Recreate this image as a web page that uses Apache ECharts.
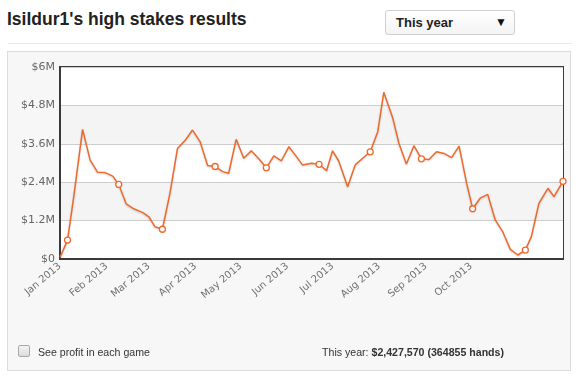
<!DOCTYPE html>
<html>
<head>
<meta charset="utf-8">
<script src="https://cdn.jsdelivr.net/npm/echarts@6/dist/echarts.min.js"></script>
<style>
  html, body { margin: 0; padding: 0; background: #fff; }
  body { width: 580px; height: 384px; position: relative; overflow: hidden; font-family: "Liberation Sans", Arial, sans-serif; }
  #title { position: absolute; left: 7px; top: 9px; font-size: 17.5px; font-weight: bold; color: #222; white-space: nowrap; }
  #dropdown { position: absolute; left: 385px; top: 10px; width: 128px; height: 23px; border: 1px solid #cfcfcf; border-radius: 3px; background: linear-gradient(#fff, #f4f4f4); }
  #dropdown .t { position: absolute; left: 10px; top: 4px; font-size: 13px; font-weight: bold; color: #222; }
  #dropdown .a { position: absolute; right: 7px; top: 4px; font-size: 12px; color: #111; }
  #sep { position: absolute; left: 8px; top: 43px; width: 564px; height: 1px; background: #e9e9e9; }
  #panel { position: absolute; left: 7px; top: 51px; width: 562px; height: 318px; border: 1px solid #dcdcdc; background: #f7f7f7; }
  #chart { position: absolute; left: 0; top: 0; width: 580px; height: 384px; }
  #cb { position: absolute; left: 18px; top: 345px; width: 10px; height: 10px; border: 1px solid #a9a9a9; border-radius: 2px; background: linear-gradient(#f4f4f4, #dcdcdc); }
  #cbl { position: absolute; left: 38px; top: 346px; font-size: 10.6px; color: #333; white-space: nowrap; }
  #tot { position: absolute; right: 76px; top: 346px; font-size: 10.6px; color: #333; white-space: nowrap; }
</style>
</head>
<body>
<div id="title">Isildur1's high stakes results</div>
<div id="dropdown"><span class="t">This year</span><span class="a">▼</span></div>
<div id="sep"></div>
<div id="panel"></div>
<div id="chart"></div>
<div id="cb"></div>
<div id="cbl">See profit in each game</div>
<div id="tot">This year: <b>$2,427,570 (364855 hands)</b></div>
<script>
// ---- data ----
const dates = [
  '2013-01-01','2013-01-06','2013-01-10','2013-01-16','2013-01-21','2013-01-26','2013-01-31',
  '2013-02-05','2013-02-09','2013-02-14','2013-02-19','2013-02-25','2013-03-01','2013-03-05',
  '2013-03-10','2013-03-15','2013-03-20','2013-03-25','2013-03-30','2013-04-04','2013-04-09',
  '2013-04-14','2013-04-19','2013-04-23','2013-04-28','2013-05-03','2013-05-08','2013-05-13',
  '2013-05-18','2013-05-23','2013-05-28','2013-06-02','2013-06-07','2013-06-11','2013-06-17',
  '2013-06-22','2013-06-27','2013-07-01','2013-07-05','2013-07-11','2013-07-16','2013-07-21',
  '2013-07-26','2013-07-31','2013-08-04','2013-08-10','2013-08-14','2013-08-19','2013-08-24',
  '2013-08-29','2013-09-03','2013-09-08','2013-09-13','2013-09-18','2013-09-23','2013-09-28',
  '2013-10-02','2013-10-07','2013-10-12','2013-10-17','2013-10-22','2013-10-27','2013-11-01',
  '2013-11-06','2013-11-10','2013-11-15','2013-11-21','2013-11-25','2013-12-01'
];
const profitMillions = [
  0.05, 0.59, 1.90, 4.05, 3.09, 2.71, 2.70,
  2.59, 2.33, 1.72, 1.57, 1.45, 1.32, 1.01,
  0.93, 2.05, 3.45, 3.70, 4.03, 3.67, 2.92,
  2.89, 2.73, 2.68, 3.74, 3.15, 3.38, 3.13,
  2.85, 3.22, 3.07, 3.51, 3.20, 2.94, 2.99,
  2.96, 2.76, 3.38, 3.07, 2.26, 2.94, 3.15,
  3.35, 3.98, 5.21, 4.40, 3.62, 2.97, 3.54,
  3.13, 3.11, 3.35, 3.30, 3.17, 3.53, 2.37,
  1.57, 1.90, 2.02, 1.22, 0.85, 0.30, 0.125,
  0.28, 0.70, 1.74, 2.21, 1.95, 2.42757
];
const markedDates = ['2013-01-06','2013-02-09','2013-03-10','2013-04-14','2013-05-18','2013-06-22',
  '2013-07-26','2013-08-29','2013-10-02','2013-11-06','2013-12-01'];
const xTickLabels = ['Jan 2013','Feb 2013','Mar 2013','Apr 2013','May 2013','Jun 2013',
  'Jul 2013','Aug 2013','Sep 2013','Oct 2013'];
const yTickLabels = ['$0','$1.2M','$2.4M','$3.6M','$4.8M','$6M'];

// ---- chart ----
const marked = new Set(markedDates);
const seriesData = dates.map((d, i) => [d, profitMillions[i] * 1e6]);
const chart = echarts.init(document.getElementById('chart'), null, { renderer: 'canvas' });
chart.setOption({
  backgroundColor: 'transparent',
  animation: false,
  grid: { left: 60, right: 17, top: 67, bottom: 125, show: true, borderColor: '#3a3a3a', borderWidth: 2, backgroundColor: 'transparent' },
  xAxis: {
    type: 'time',
    min: '2013-01-01',
    max: '2013-12-01',
    minInterval: 28 * 86400000,
    maxInterval: 31 * 86400000,
    axisLine: { show: true, lineStyle: { color: '#3a3a3a', width: 2 } },
    axisTick: { show: false },
    splitLine: { show: false },
    axisLabel: {
      rotate: 40,
      margin: 6,
      color: '#707070',
      fontFamily: 'DejaVu Sans',
      fontSize: 10,
      hideOverlap: false,
      showMinLabel: true,
      formatter: function (val) {
        const d = new Date(val);
        if (d.getDate() !== 1) return '';
        return xTickLabels[d.getMonth()] && d.getFullYear() === 2013 ? xTickLabels[d.getMonth()] : '';
      }
    }
  },
  yAxis: {
    type: 'value',
    min: 0,
    max: 6e6,
    interval: 1.2e6,
    axisLine: { show: true, lineStyle: { color: '#3a3a3a', width: 2 } },
    axisTick: { show: false },
    splitLine: { show: true, lineStyle: { color: '#cdcdcd', width: 1 } },
    splitArea: { show: true, areaStyle: { color: ['#ffffff', '#f4f4f4'] } },
    axisLabel: {
      margin: 5,
      color: '#666',
      fontFamily: 'DejaVu Sans',
      fontSize: 11,
      formatter: function (val) { return yTickLabels[Math.round(val / 1.2e6)]; }
    }
  },
  series: [{
    type: 'line',
    data: seriesData,
    showAllSymbol: true,
    symbol: 'circle',
    symbolSize: function (v, p) { return marked.has(dates[p.dataIndex]) ? 6 : 0; },
    itemStyle: { color: '#ffffff', borderColor: '#ee6a2c', borderWidth: 1.3 },
    lineStyle: { color: '#ee6a2c', width: 1.5, shadowColor: 'rgba(0,0,0,0.18)', shadowBlur: 2, shadowOffsetY: 1 },
    z: 5
  }]
});
</script>
</body>
</html>
